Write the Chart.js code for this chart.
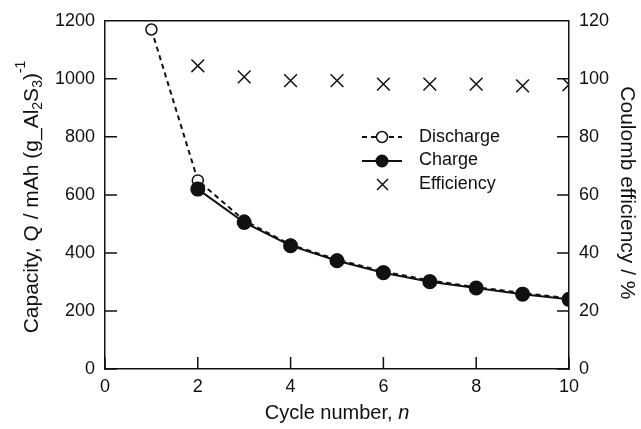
<!DOCTYPE html>
<html>
<head>
<meta charset="utf-8">
<script src="https://cdn.jsdelivr.net/npm/chart.js@4"></script>
<style>
  html, body { margin: 0; padding: 0; background: #fff; }
  #wrap { width: 641px; height: 429px; }
</style>
</head>
<body>
<div id="wrap"><canvas id="grafico"></canvas></div>
<script>
// datos
var ciclos = [1, 2, 3, 4, 5, 6, 7, 8, 9, 10];
var descarga = [1170, 650, 512, 428, 377, 336, 305, 282, 262, 244];
var carga = [null, 620, 505, 425, 373, 332, 301, 279, 258, 240];
var eficiencia = [null, 104.5, 100.7, 99.4, 99.4, 98.2, 98.2, 98.2, 97.6, 98];
var ticksX = [0, 2, 4, 6, 8, 10];
var ticksCap = [0, 200, 400, 600, 800, 1000, 1200];
var ticksEf = [0, 20, 40, 60, 80, 100, 120];

var FUENTE = '"Liberation Sans", Arial, sans-serif';
var NEGRO = '#111';

function puntos(valores) {
    var res = [];
    for (var i = 0; i < ciclos.length; i++) {
        if (valores[i] !== null) res.push({ x: ciclos[i], y: valores[i] });
    }
    return res;
}

function sinComa(v) { return String(v); }

// ticks hacia dentro, marco superior, titulos y leyenda
var decoracion = {
    id: 'decoracion',
    afterDraw: function(chart) {
        var ctx = chart.ctx;
        var a = chart.chartArea;
        var sx = chart.scales.x, sy = chart.scales.y, sy2 = chart.scales.y2;
        var L = 12;
        ctx.save();
        ctx.strokeStyle = NEGRO;
        ctx.lineWidth = 1.5;
        ctx.beginPath();
        ctx.moveTo(a.left, a.top); ctx.lineTo(a.right, a.top);
        ticksX.forEach(function(v) {
            var px = sx.getPixelForValue(v);
            ctx.moveTo(px, a.bottom); ctx.lineTo(px, a.bottom - L);
        });
        ticksCap.forEach(function(v) {
            var py = sy.getPixelForValue(v);
            ctx.moveTo(a.left, py); ctx.lineTo(a.left + L, py);
        });
        ticksEf.forEach(function(v) {
            var py = sy2.getPixelForValue(v);
            ctx.moveTo(a.right, py); ctx.lineTo(a.right - L, py);
        });
        ctx.stroke();

        ctx.fillStyle = NEGRO;
        ctx.textBaseline = 'middle';

        // titulo eje x con n en cursiva
        var f = '20px ' + FUENTE, fi = 'italic 20px ' + FUENTE;
        ctx.font = f;
        var t1 = 'Cycle number, ';
        var w1 = ctx.measureText(t1).width;
        ctx.font = fi;
        var w2 = ctx.measureText('n').width;
        var x0 = (a.left + a.right) / 2 - (w1 + w2) / 2;
        ctx.font = f; ctx.textAlign = 'left';
        ctx.fillText(t1, x0, 413);
        ctx.font = fi;
        ctx.fillText('n', x0 + w1, 413);

        // titulo eje derecho
        ctx.save();
        ctx.translate(627, (a.top + a.bottom) / 2 - 2);
        ctx.rotate(Math.PI / 2);
        ctx.font = '21px ' + FUENTE; ctx.textAlign = 'center';
        ctx.fillText('Coulomb efficiency / %', 0, 0);
        ctx.restore();

        // titulo eje izquierdo con sub y superindices
        var partes = [
            ['Capacity, Q / mAh (g_Al', 21, 0],
            ['2', 14, 6],
            ['S', 21, 0],
            ['3', 14, 6],
            [')', 21, 0],
            ['-1', 14, -11]
        ];
        var total = 0;
        partes.forEach(function(p) { ctx.font = p[1] + 'px ' + FUENTE; total += ctx.measureText(p[0]).width; });
        ctx.save();
        ctx.translate(32, 197);
        ctx.rotate(-Math.PI / 2);
        ctx.textAlign = 'left';
        var cx = -total / 2;
        partes.forEach(function(p) {
            ctx.font = p[1] + 'px ' + FUENTE;
            ctx.fillText(p[0], cx, p[2]);
            cx += ctx.measureText(p[0]).width;
        });
        ctx.restore();

        // leyenda
        ctx.font = '18px ' + FUENTE;
        ctx.textAlign = 'left';
        var lx = 362, tx = 419;
        // Discharge
        ctx.lineWidth = 2;
        ctx.setLineDash([5, 4]);
        ctx.beginPath(); ctx.moveTo(lx, 137); ctx.lineTo(lx + 40, 137); ctx.stroke();
        ctx.setLineDash([]);
        ctx.beginPath(); ctx.arc(lx + 20, 137, 5.5, 0, Math.PI * 2);
        ctx.fillStyle = '#fff'; ctx.fill(); ctx.lineWidth = 1.5; ctx.stroke();
        ctx.fillStyle = NEGRO;
        ctx.fillText('Discharge', tx, 137);
        // Charge
        ctx.lineWidth = 2;
        ctx.beginPath(); ctx.moveTo(lx, 161); ctx.lineTo(lx + 40, 161); ctx.stroke();
        ctx.beginPath(); ctx.arc(lx + 20, 161, 6.5, 0, Math.PI * 2); ctx.fill();
        ctx.fillText('Charge', tx, 160);
        // Efficiency
        ctx.lineWidth = 1.5;
        ctx.beginPath();
        ctx.moveTo(lx + 15, 179); ctx.lineTo(lx + 26, 190);
        ctx.moveTo(lx + 26, 179); ctx.lineTo(lx + 15, 190);
        ctx.stroke();
        ctx.fillText('Efficiency', tx, 184);
        ctx.restore();
    }
};

var ctxGrafico = document.getElementById('grafico').getContext('2d');
new Chart(ctxGrafico, {
    type: 'scatter',
    data: {
        datasets: [{
            label: 'Charge',
            data: puntos(carga),
            showLine: true,
            borderColor: NEGRO,
            borderWidth: 2,
            pointRadius: 6.5,
            pointBackgroundColor: NEGRO,
            pointBorderColor: NEGRO,
            yAxisID: 'y',
            order: 0
        }, {
            label: 'Discharge',
            data: puntos(descarga),
            showLine: true,
            borderColor: NEGRO,
            borderWidth: 2,
            borderDash: [5, 4],
            pointRadius: 5.5,
            pointBorderWidth: 1.5,
            pointBackgroundColor: '#fff',
            pointBorderColor: NEGRO,
            yAxisID: 'y',
            order: 1
        }, {
            label: 'Efficiency',
            data: puntos(eficiencia),
            showLine: false,
            pointStyle: 'crossRot',
            pointRadius: 9,
            pointBorderWidth: 1.5,
            pointBorderColor: NEGRO,
            borderColor: NEGRO,
            yAxisID: 'y2',
            order: 2
        }]
    },
    options: {
        responsive: true,
        maintainAspectRatio: false,
        animation: false,
        layout: { padding: { top: 20, left: 0, right: 0, bottom: 0 } },
        plugins: { legend: { display: false }, tooltip: { enabled: false } },
        scales: {
            x: {
                type: 'linear', min: 0, max: 10,
                afterFit: function(s) { s.height = 60; },
                afterBuildTicks: function(s) { s.ticks = ticksX.map(function(v) { return { value: v }; }); },
                grid: { display: false, drawTicks: false },
                border: { display: true, color: NEGRO, width: 1.5 },
                ticks: { color: NEGRO, padding: 7, callback: sinComa, font: { family: FUENTE, size: 18 } }
            },
            y: {
                type: 'linear', position: 'left', min: 0, max: 1200,
                afterFit: function(s) { s.width = 105; },
                afterBuildTicks: function(s) { s.ticks = ticksCap.map(function(v) { return { value: v }; }); },
                grid: { display: false, drawTicks: false },
                border: { display: true, color: NEGRO, width: 1.5 },
                ticks: { color: NEGRO, padding: 10, callback: sinComa, font: { family: FUENTE, size: 18 } }
            },
            y2: {
                type: 'linear', position: 'right', min: 0, max: 120,
                afterFit: function(s) { s.width = 72; },
                afterBuildTicks: function(s) { s.ticks = ticksEf.map(function(v) { return { value: v }; }); },
                grid: { display: false, drawTicks: false },
                border: { display: true, color: NEGRO, width: 1.5 },
                ticks: { color: NEGRO, padding: 10, callback: sinComa, font: { family: FUENTE, size: 18 } }
            }
        }
    },
    plugins: [decoracion]
});
</script>
</body>
</html>
